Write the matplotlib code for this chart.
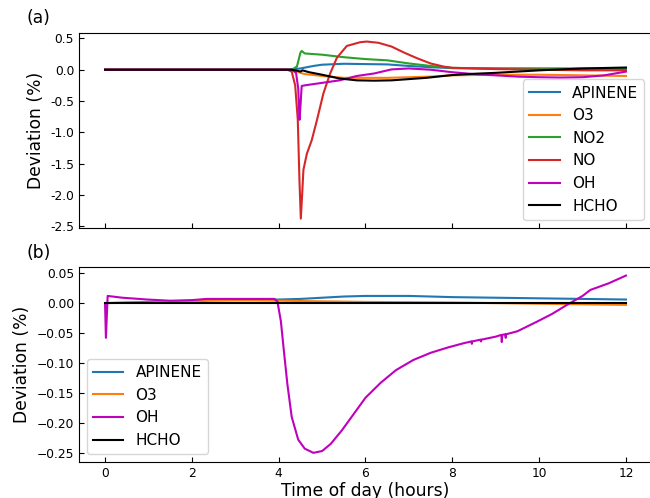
import matplotlib

matplotlib.use('agg')
import matplotlib.pyplot as plt

# ---- panel (a) ----
t_apinene_a = [0, 4.2, 4.5, 4.8, 5.0, 5.5, 6.0, 6.5, 7.0, 7.5, 8.0, 9, 10, 11, 12]
apinene_a = [0, 0, 0.02, 0.06, 0.08, 0.095, 0.09, 0.085, 0.06, 0.04, 0.025, 0.02, 0.02, 0.02, 0.02]

t_o3_a = [0, 4.3, 4.5, 4.6, 5.0, 5.5, 6.0, 6.5, 7.0, 7.5, 8.0, 9, 10, 11, 12]
o3_a = [0, 0, -0.05, -0.07, -0.1, -0.13, -0.13, -0.13, -0.12, -0.11, -0.09, -0.08, -0.08, -0.09, -0.1]

t_no2_a = [0, 4.3, 4.42, 4.5, 4.53, 4.6, 5.0, 5.5, 6.0, 6.5, 7.0, 7.5, 8.0, 9, 10, 11, 12]
no2_a = [0, 0, 0.05, 0.27, 0.3, 0.26, 0.24, 0.2, 0.17, 0.15, 0.1, 0.06, 0.03, 0.02, 0.015, 0.01, 0.01]

t_no_a = [0, 4.2, 4.3, 4.38, 4.44, 4.48, 4.51, 4.54, 4.57, 4.65, 4.76, 4.88, 5.03, 5.18, 5.34,
          5.57, 5.88, 6.03, 6.3, 6.6, 6.9, 7.2, 7.5, 7.8, 8.0, 9, 10, 11, 12]
no_a = [0, 0, -0.03, -0.25, -0.8, -1.8, -2.38, -2.0, -1.6, -1.34, -1.13, -0.81, -0.38, -0.07, 0.19,
        0.38, 0.44, 0.45, 0.43, 0.37, 0.27, 0.18, 0.1, 0.05, 0.03, 0.01, 0.0, -0.01, -0.01]

t_oh_a = [0, 4.3, 4.4, 4.45, 4.48, 4.5, 4.53, 4.6, 5.0, 5.4, 5.8, 6.2, 6.6, 7.0, 7.5, 8.0,
          8.5, 9.0, 9.5, 10.0, 10.5, 11.0, 11.5, 12.0]
oh_a = [0, 0, -0.05, -0.3, -0.8, -0.6, -0.26, -0.25, -0.21, -0.17, -0.1, -0.06, 0.005, 0.02, 0.0, -0.04,
        -0.07, -0.09, -0.11, -0.12, -0.125, -0.12, -0.09, -0.03]

t_hcho_a = [0, 4.3, 4.45, 4.5, 4.55, 4.7, 5.0, 5.4, 5.8, 6.2, 6.6, 7.0, 7.4, 8.0, 8.5, 9, 10, 11, 12]
hcho_a = [0, 0, -0.02, -0.03, -0.01, -0.04, -0.08, -0.14, -0.17, -0.175, -0.17, -0.15, -0.13, -0.085,
          -0.065, -0.05, -0.01, 0.02, 0.035]

yticks_a = [-2.5, -2.0, -1.5, -1.0, -0.5, 0.0, 0.5]
yticklabels_a = ['-2.5', '-2.0', '-1.5', '-1.0', '-0.5', '0.0', '0.5']

# ---- panel (b) ----
t_apinene_b = [0, 1, 2, 3, 4, 4.5, 5, 5.5, 6, 6.5, 7, 8, 9, 10, 11, 12]
apinene_b = [0, 0.002, 0.004, 0.005, 0.006, 0.007, 0.009, 0.011, 0.012, 0.012, 0.012, 0.010, 0.009,
             0.008, 0.007, 0.006]

t_o3_b = [0, 1, 2, 2.4, 4, 6, 8, 10, 12]
o3_b = [0, 0.001, 0.003, 0.005, 0.004, 0.002, 0.001, -0.001, -0.003]

t_oh_b = [0, 0.02, 0.06, 0.4, 0.97, 1.5, 2.0, 2.34, 3.0, 3.5, 3.9, 3.97, 4.05, 4.12, 4.2, 4.3, 4.45,
          4.6, 4.8, 5.0, 5.2, 5.45, 5.7, 6.0, 6.35, 6.7, 7.1, 7.5, 7.9, 8.26, 8.44, 8.45, 8.46,
          8.65, 8.66, 8.67, 9.0, 9.13, 9.14, 9.15, 9.22, 9.23, 9.24, 9.5, 9.95, 10.3, 10.64, 11.0,
          11.18, 11.6, 12.0]
oh_b = [0, -0.058, 0.012, 0.009, 0.006, 0.004, 0.005, 0.007, 0.007, 0.007, 0.007, 0.003, -0.03, -0.08,
        -0.135, -0.19, -0.228, -0.243, -0.25, -0.247, -0.235, -0.213, -0.188, -0.158, -0.133, -0.112,
        -0.095, -0.083, -0.074, -0.067, -0.064, -0.068, -0.064, -0.061, -0.064, -0.061, -0.056,
        -0.053, -0.065, -0.053, -0.052, -0.058, -0.052, -0.047, -0.031, -0.018, -0.003, 0.012,
        0.022, 0.033, 0.046]

t_hcho_b = [0, 12]
hcho_b = [0, 0]

fig = plt.figure(figsize=(6.5, 4.98), dpi=100)
ax1 = fig.add_axes([79 / 650, 1 - 227.5 / 498, 573 / 650, 194.8 / 498])
ax2 = fig.add_axes([79 / 650, 1 - 461.7 / 498, 573 / 650, 195 / 498], sharex=ax1)

ax1.plot(t_apinene_a, apinene_a, color='tab:blue', label='APINENE')
ax1.plot(t_o3_a, o3_a, color='tab:orange', label='O3')
ax1.plot(t_no2_a, no2_a, color='tab:green', label='NO2')
ax1.plot(t_no_a, no_a, color='tab:red', label='NO')
ax1.plot(t_oh_a, oh_a, color='m', label='OH')
ax1.plot(t_hcho_a, hcho_a, color='k', label='HCHO')
ax1.set_yticks(yticks_a)
ax1.set_yticklabels(yticklabels_a)
ax1.set_ylabel('Deviation (%)', fontsize=12.3)
ax1.legend(loc='lower right', fontsize=11)

ax2.plot(t_apinene_b, apinene_b, color='tab:blue', label='APINENE')
ax2.plot(t_o3_b, o3_b, color='tab:orange', label='O3')
ax2.plot(t_oh_b, oh_b, color='m', label='OH')
ax2.plot(t_hcho_b, hcho_b, color='k', label='HCHO')
ax2.set_ylabel('Deviation (%)', fontsize=12.3)
ax2.set_xlabel('Time of day (hours)', fontsize=12.3, labelpad=2)
ax2.set_xticks([0, 2, 4, 6, 8, 10, 12])
ax2.set_yticks([-0.25, -0.2, -0.15, -0.1, -0.05, 0.0, 0.05])
ax2.legend(loc='lower left', fontsize=11)
ax2.set_xlim(-0.6, 12.6)

ax1.tick_params(direction='in', labelsize=8.8)
ax2.tick_params(direction='in', labelsize=8.8)
plt.setp(ax1.get_xticklabels(), visible=False)

fig.text(27 / 650, 1 - 18 / 498, '(a)', fontsize=12.3, va='center')
fig.text(27 / 650, 1 - 253 / 498, '(b)', fontsize=12.3, va='center')

plt.savefig('out.png')
